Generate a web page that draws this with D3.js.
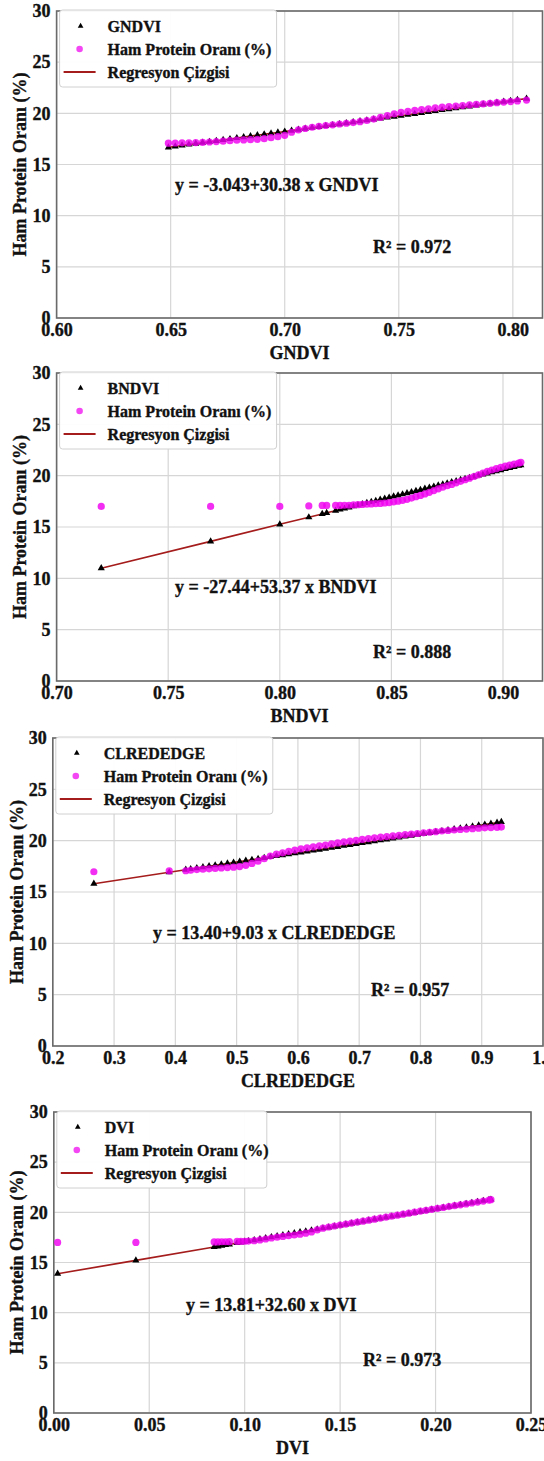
<!DOCTYPE html>
<html><head><meta charset="utf-8">
<script src="https://cdn.jsdelivr.net/npm/d3@7"></script>
<style>
body{margin:0;background:#fff}
svg{display:block}
text{font-family:"Liberation Serif","Times New Roman",serif;font-weight:bold;fill:#111;stroke:#111;stroke-width:0.35px}
</style>
</head><body>
<svg id="c" width="544" height="1461"></svg>
<script>
// ---------- tick labels ----------
const yTicks = [0, 5, 10, 15, 20, 25, 30];
const gndviTicks = [0.60, 0.65, 0.70, 0.75, 0.80];
const bndviTicks = [0.70, 0.75, 0.80, 0.85, 0.90];
const clreTicks = [0.2, 0.3, 0.4, 0.5, 0.6, 0.7, 0.8, 0.9, 1.0];
const dviTicks = [0.00, 0.05, 0.10, 0.15, 0.20, 0.25];

// ---------- GNDVI ----------
const gndviX = [0.649,0.652,0.655,0.658,0.661,0.664,0.667,0.670,0.673,0.676,0.679,0.682,0.685,0.688,0.691,0.694,0.697,0.700,0.703,0.706,0.709,0.712,0.715,0.718,0.721,0.724,0.727,0.730,0.733,0.736,0.739,0.742,0.745,0.748,0.751,0.754,0.757,0.760,0.763,0.766,0.769,0.772,0.775,0.778,0.781,0.784,0.787,0.790,0.793,0.796,0.799,0.802,0.806];
const gndviProtein = [17.08,17.10,17.12,17.12,17.14,17.16,17.20,17.24,17.28,17.33,17.38,17.40,17.43,17.46,17.52,17.62,17.72,17.85,18.15,18.38,18.52,18.64,18.73,18.81,18.88,18.96,19.03,19.10,19.18,19.30,19.44,19.60,19.78,19.95,20.09,20.19,20.28,20.36,20.45,20.53,20.60,20.66,20.71,20.76,20.82,20.87,20.92,20.98,21.04,21.10,21.15,21.21,21.30];
const gndviPred = [16.67,16.76,16.86,16.95,17.04,17.13,17.22,17.31,17.40,17.49,17.59,17.68,17.77,17.86,17.95,18.04,18.13,18.22,18.31,18.41,18.50,18.59,18.68,18.77,18.86,18.95,19.04,19.13,19.23,19.32,19.41,19.50,19.59,19.68,19.77,19.86,19.95,20.05,20.14,20.23,20.32,20.41,20.50,20.59,20.68,20.78,20.87,20.96,21.05,21.14,21.23,21.32,21.44];

// ---------- BNDVI ----------
const bndviX = [0.720,0.769,0.800,0.813,0.819,0.821,0.825,0.827,0.829,0.831,0.833,0.835,0.837,0.839,0.841,0.843,0.845,0.847,0.849,0.851,0.853,0.855,0.857,0.859,0.861,0.863,0.865,0.867,0.869,0.871,0.873,0.875,0.877,0.879,0.881,0.883,0.885,0.887,0.889,0.891,0.893,0.895,0.897,0.899,0.901,0.903,0.905,0.907,0.908];
const bndviProtein = [17.0,17.0,17.0,17.05,17.1,17.1,17.1,17.1,17.12,17.12,17.15,17.17,17.2,17.22,17.25,17.28,17.3,17.34,17.38,17.45,17.52,17.6,17.7,17.82,17.95,18.08,18.22,18.38,18.55,18.72,18.88,19.02,19.15,19.3,19.45,19.6,19.76,19.92,20.08,20.25,20.42,20.55,20.68,20.8,20.92,21.03,21.13,21.22,21.3];
const bndviPred = [10.99,13.60,15.26,15.95,16.27,16.38,16.59,16.70,16.80,16.91,17.02,17.12,17.23,17.34,17.44,17.55,17.66,17.76,17.87,17.98,18.08,18.19,18.30,18.40,18.51,18.62,18.73,18.83,18.94,19.05,19.15,19.26,19.37,19.47,19.58,19.69,19.79,19.90,20.01,20.11,20.22,20.33,20.43,20.54,20.65,20.75,20.86,20.97,21.02];

// ---------- CLREDEDGE ----------
const clreX = [0.267,0.390,0.417,0.425,0.435,0.445,0.455,0.465,0.475,0.485,0.495,0.505,0.515,0.525,0.535,0.545,0.555,0.565,0.575,0.585,0.595,0.605,0.615,0.625,0.635,0.645,0.655,0.665,0.675,0.685,0.695,0.705,0.715,0.725,0.735,0.745,0.755,0.765,0.775,0.785,0.795,0.805,0.815,0.825,0.835,0.845,0.855,0.865,0.875,0.885,0.895,0.905,0.915,0.925,0.932];
const clreProtein = [16.97,17.05,17.07,17.12,17.18,17.22,17.26,17.30,17.34,17.38,17.42,17.48,17.6,17.78,18.0,18.25,18.5,18.68,18.82,18.95,19.08,19.2,19.3,19.4,19.5,19.58,19.68,19.78,19.88,19.96,20.04,20.12,20.2,20.28,20.34,20.4,20.46,20.52,20.58,20.64,20.7,20.76,20.82,20.88,20.94,20.99,21.04,21.09,21.13,21.17,21.21,21.25,21.28,21.3,21.32];
const clrePred = [15.81,16.92,17.17,17.24,17.33,17.42,17.51,17.60,17.69,17.78,17.87,17.96,18.05,18.14,18.23,18.32,18.41,18.50,18.59,18.68,18.77,18.86,18.95,19.04,19.13,19.22,19.31,19.40,19.50,19.59,19.68,19.77,19.86,19.95,20.04,20.13,20.22,20.31,20.40,20.49,20.58,20.67,20.76,20.85,20.94,21.03,21.12,21.21,21.30,21.39,21.48,21.57,21.66,21.75,21.82];

// ---------- DVI ----------
const dviX = [0.002,0.043,0.084,0.086,0.088,0.090,0.092,0.096,0.098,0.100,0.102,0.105,0.108,0.111,0.114,0.117,0.120,0.123,0.126,0.129,0.132,0.135,0.138,0.141,0.144,0.147,0.150,0.153,0.156,0.159,0.162,0.165,0.168,0.171,0.174,0.177,0.180,0.183,0.186,0.189,0.192,0.195,0.198,0.201,0.204,0.207,0.210,0.213,0.216,0.219,0.222,0.225,0.228,0.229];
const dviProtein = [17.0,17.0,17.05,17.05,17.07,17.07,17.08,17.1,17.1,17.12,17.14,17.18,17.25,17.34,17.44,17.52,17.6,17.67,17.74,17.82,17.92,18.05,18.25,18.42,18.54,18.64,18.73,18.83,18.93,19.03,19.12,19.22,19.32,19.42,19.52,19.62,19.72,19.82,19.92,20.02,20.12,20.2,20.3,20.4,20.48,20.57,20.66,20.75,20.84,20.93,21.02,21.12,21.22,21.26];
const dviPred = [13.88,15.21,16.55,16.61,16.68,16.74,16.81,16.94,17.00,17.07,17.14,17.23,17.33,17.43,17.53,17.62,17.72,17.82,17.92,18.02,18.11,18.21,18.31,18.41,18.50,18.60,18.70,18.80,18.90,18.99,19.09,19.19,19.29,19.38,19.48,19.58,19.68,19.78,19.87,19.97,20.07,20.17,20.26,20.36,20.46,20.56,20.66,20.75,20.85,20.95,21.05,21.15,21.24,21.28];

const legendLabels = ["Ham Protein Oranı (%)", "Regresyon Çizgisi"];
const yTitle = "Ham Protein Oranı (%)";

const panels = [
  {name:"GNDVI", xs:gndviX, prot:gndviProtein, pred:gndviPred, ticks:gndviTicks, fmt:".2f",
   eq:"y = -3.043+30.38 x GNDVI", r2:"R² = 0.972", dom:[0.60,0.813],
   L:56.6, R:542.5, T:11, B:318, eqX:175, eqY:185, r2X:373, r2Y:247, legW:217, ytX:20},
  {name:"BNDVI", xs:bndviX, prot:bndviProtein, pred:bndviPred, ticks:bndviTicks, fmt:".2f",
   eq:"y = -27.44+53.37 x BNDVI", r2:"R² = 0.888", dom:[0.70,0.9177],
   L:56.6, R:542.5, T:373, B:681, eqX:175, eqY:587, r2X:373, r2Y:652, legW:217, ytX:20},
  {name:"CLREDEDGE", xs:clreX, prot:clreProtein, pred:clrePred, ticks:clreTicks, fmt:".1f",
   eq:"y = 13.40+9.03 x CLREDEDGE", r2:"R² = 0.957", dom:[0.2,1.0],
   L:52.8, R:543, T:738, B:1046, eqX:153, eqY:933, r2X:371, r2Y:990, legW:217, ytX:17},
  {name:"DVI", xs:dviX, prot:dviProtein, pred:dviPred, ticks:dviTicks, fmt:".2f",
   eq:"y = 13.81+32.60 x DVI", r2:"R² = 0.973", dom:[0,0.25],
   L:53.8, R:531, T:1112, B:1413, eqX:186, eqY:1305, r2X:363, r2Y:1360, legW:210, ytX:17}
];

const svg = d3.select("#c");
const tri = d3.symbol().type(d3.symbolTriangle);
const PINK = "#f000f0", RED = "#a51c1c";

panels.forEach(p => {
  const g = svg.append("g");
  const x = d3.scaleLinear().domain(p.dom).range([p.L, p.R]);
  const y = d3.scaleLinear().domain([0,30]).range([p.B, p.T]);

  // grid
  g.append("g").selectAll("line").data(p.ticks.filter(t => x(t) <= p.R + 0.5)).join("line")
    .attr("x1", d => x(d)).attr("x2", d => x(d)).attr("y1", p.T).attr("y2", p.B)
    .attr("stroke", "#d6d6d6").attr("stroke-width", 1.2);
  g.append("g").selectAll("line").data(yTicks).join("line")
    .attr("x1", p.L).attr("x2", p.R).attr("y1", d => y(d)).attr("y2", d => y(d))
    .attr("stroke", "#d6d6d6").attr("stroke-width", 1.2);

  // frame
  g.append("rect").attr("x", p.L).attr("y", p.T).attr("width", p.R - p.L).attr("height", p.B - p.T)
    .attr("fill", "none").attr("stroke", "#6a6a6a").attr("stroke-width", 1.6);

  // axes (labels only)
  const xa = d3.axisBottom(x).tickValues(p.ticks).tickFormat(d3.format(p.fmt)).tickSize(0).tickPadding(5);
  const xg = g.append("g").attr("transform", `translate(0,${p.B})`).call(xa);
  xg.select(".domain").remove();
  xg.selectAll("text").attr("font-size", 18).style("font-family", '"Liberation Serif",serif').style("font-weight","bold");
  const ya = d3.axisLeft(y).tickValues(yTicks).tickFormat(d3.format("d")).tickSize(0).tickPadding(6);
  const yg = g.append("g").attr("transform", `translate(${p.L},0)`).call(ya);
  yg.select(".domain").remove();
  yg.selectAll("text").attr("font-size", 18).style("font-family", '"Liberation Serif",serif').style("font-weight","bold");

  // titles
  g.append("text").attr("x", (p.L + p.R) / 2).attr("y", p.B + 35).attr("dy", "0.35em")
    .attr("text-anchor", "middle").attr("font-size", 18).text(p.name);
  g.append("text").attr("transform", `translate(${p.ytX},${(p.T + p.B) / 2}) rotate(-90)`)
    .attr("dy", "0.35em").attr("text-anchor", "middle").attr("font-size", 18).text(yTitle);

  // regression line
  const ln = d3.line().x((d, i) => x(p.xs[i])).y(d => y(d));
  g.append("path").datum(p.pred).attr("d", ln).attr("fill", "none").attr("stroke", RED).attr("stroke-width", 1.6);

  // triangles (predicted)
  g.append("g").selectAll("path").data(p.pred).join("path")
    .attr("transform", (d, i) => `translate(${x(p.xs[i])},${y(d)})`)
    .attr("d", tri.size(22)).attr("fill", "#000");

  // protein points
  g.append("g").selectAll("circle").data(p.prot).join("circle")
    .attr("cx", (d, i) => x(p.xs[i])).attr("cy", d => y(d)).attr("r", 3.6)
    .attr("fill", PINK).attr("fill-opacity", 0.82);

  // equation + R2
  g.append("text").attr("x", p.eqX).attr("y", p.eqY).attr("dy", "0.35em").attr("font-size", 18).text(p.eq);
  g.append("text").attr("x", p.r2X).attr("y", p.r2Y).attr("dy", "0.35em").attr("font-size", 18).text(p.r2);

  // legend
  const lg = g.append("g").attr("transform", `translate(${p.L + 3},${p.T - 1})`);
  lg.append("rect").attr("x", 0).attr("y", 0).attr("width", p.legW).attr("height", 77).attr("rx", 3)
    .attr("fill", "#fff").attr("fill-opacity", 0.95).attr("stroke", "#d0d0d0").attr("stroke-width", 1);
  const rows = [p.name].concat(legendLabels);
  lg.append("path").attr("transform", "translate(21,16)").attr("d", tri.size(14)).attr("fill", "#000");
  lg.append("circle").attr("cx", 20).attr("cy", 39).attr("r", 3.3).attr("fill", PINK).attr("fill-opacity", 0.72);
  lg.append("line").attr("x1", 4).attr("x2", 36).attr("y1", 62).attr("y2", 62).attr("stroke", RED).attr("stroke-width", 1.8);
  lg.selectAll("text.lt").data(rows).join("text").attr("class", "lt")
    .attr("x", 48).attr("y", (d, i) => 16 + i * 23).attr("dy", "0.35em").attr("font-size", 16).text(d => d);
});
</script>
</body></html>
